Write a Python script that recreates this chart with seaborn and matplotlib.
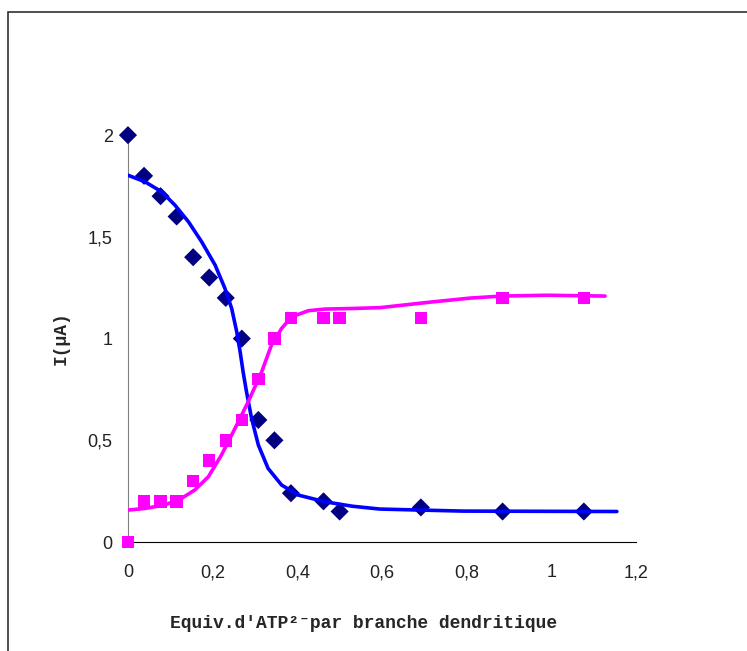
'''
Titrage ATP : courant en fonction des équivalents
'''

import matplotlib
matplotlib.use('Agg')
import matplotlib.pyplot as plt
import seaborn as sns
from matplotlib.patches import Rectangle

# points mesurés
equiv = [0, 0.038, 0.077, 0.115, 0.154, 0.192, 0.231, 0.269, 0.308, 0.346,
         0.385, 0.462, 0.5, 0.692, 0.885, 1.077]
i_libre = [2.0, 1.8, 1.7, 1.6, 1.4, 1.3, 1.2, 1.0, 0.6, 0.5,
           0.24, 0.2, 0.15, 0.17, 0.15, 0.15]
i_complexe = [0, 0.2, 0.2, 0.2, 0.3, 0.4, 0.5, 0.6, 0.8, 1.0,
              1.1, 1.1, 1.1, 1.1, 1.2, 1.2]

# courbes de tendance
x_libre = [0, 0.040, 0.080, 0.111, 0.143, 0.174, 0.206, 0.229, 0.245, 0.257,
           0.265, 0.272, 0.280, 0.292, 0.308, 0.331, 0.363, 0.402, 0.465,
           0.53, 0.595, 0.791, 1.155]
y_libre = [1.803, 1.771, 1.721, 1.656, 1.574, 1.476, 1.361, 1.247, 1.148, 1.033,
           0.935, 0.837, 0.739, 0.608, 0.477, 0.362, 0.280, 0.231, 0.198,
           0.176, 0.162, 0.152, 0.150]
x_complexe = [0, 0.040, 0.087, 0.127, 0.158, 0.190, 0.221, 0.253, 0.284, 0.316,
              0.339, 0.363, 0.387, 0.426, 0.465, 0.53, 0.595, 0.713, 0.808,
              0.883, 0.99, 1.127]
y_complexe = [0.157, 0.165, 0.182, 0.215, 0.256, 0.321, 0.428, 0.559, 0.689, 0.837,
              0.968, 1.050, 1.107, 1.137, 1.145, 1.148, 1.152, 1.179, 1.199,
              1.209, 1.213, 1.209]

x_ticks = [0, 0.2, 0.4, 0.6, 0.8, 1.0, 1.2]
x_labels = ['0', '0,2', '0,4', '0,6', '0,8', '1', '1,2']
y_ticks = [0, 0.5, 1.0, 1.5, 2.0]
y_labels = ['0', '0,5', '1', '1,5', '2']

sns.set_style('white')

fig = plt.figure(figsize=(7.47, 6.51), dpi=100)
ax = fig.add_axes([0.1713, 0.1674, 0.680, 0.625])

# cadre extérieur
fig.patches.append(Rectangle((8 / 747, -0.1), 1.2, 1.1 - 12 / 651,
                             transform=fig.transFigure, fill=False,
                             edgecolor='#303030', linewidth=1.2))

sns.scatterplot(x=equiv, y=i_libre, marker='D', color='#000080', s=85,
                edgecolor='none', ax=ax, clip_on=False, zorder=3)
sns.scatterplot(x=equiv, y=i_complexe, marker='s', color='#FF00FF', s=80,
                edgecolor='none', ax=ax, clip_on=False, zorder=3)
sns.lineplot(x=x_libre, y=y_libre, sort=False, estimator=None, color='#0000FF',
             linewidth=2.6, ax=ax, zorder=4)
sns.lineplot(x=x_complexe, y=y_complexe, sort=False, estimator=None,
             color='#FF00FF', linewidth=2.6, ax=ax, zorder=4)

ax.set_xlim(0, 1.2)
ax.set_ylim(0, 2)
ax.set_xticks(x_ticks)
ax.set_xticklabels(x_labels, family='Liberation Sans', fontsize=13)
ax.set_yticks(y_ticks)
ax.set_yticklabels(y_labels, family='Liberation Sans', fontsize=13)

for s in ['top', 'right']:
    ax.spines[s].set_visible(False)
ax.spines['left'].set_color('#808080')
ax.spines['bottom'].set_color('black')
ax.tick_params(axis='x', direction='out', length=5, width=1, color='black',
               pad=11, labelcolor='#222222')
ax.tick_params(axis='y', direction='out', length=5, width=1, color='#808080',
               pad=6, labelcolor='#222222')

ax.set_xlabel("Equiv.d'ATP²⁻par branche dendritique",
              family=['Liberation Mono', 'DejaVu Sans Mono'], fontweight='bold',
              fontsize=13)
ax.set_ylabel('I(µA)', family=['Liberation Mono', 'DejaVu Sans Mono'],
              fontweight='bold', fontsize=13)
ax.xaxis.set_label_coords(0.463, -0.179)
ax.yaxis.set_label_coords(-0.114, 0.5)

fig.savefig('out.png', dpi=100)
